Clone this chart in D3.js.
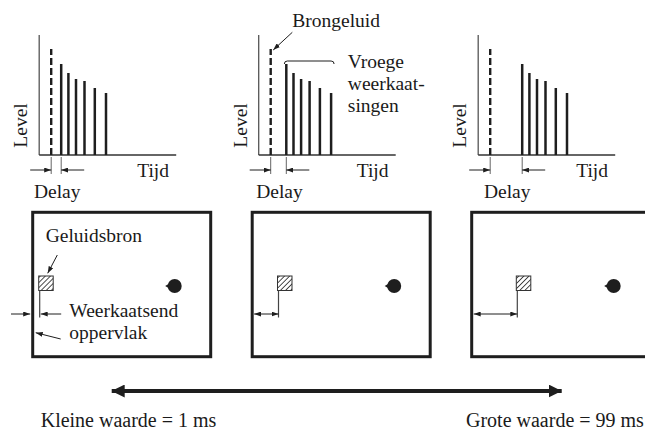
<!DOCTYPE html>
<html><head><meta charset="utf-8">
<script src="https://cdn.jsdelivr.net/npm/d3@7"></script>
<style>
body{margin:0;background:#fff}
svg{display:block}
text{font-family:"Liberation Serif","Times New Roman",serif;fill:#1a1a1a;font-size:19.5px}
</style>
</head><body><svg id="c" width="645" height="433"></svg>
<script>
// ---------- data ----------
const panelIds = ["klein", "middel", "groot"];
const delayTimes = [10, 15.6, 32];              // gap direct sound -> first reflection
const directTime = 12;                          // time of direct sound
const directLevel = 106;                        // level of direct sound
const reflectionOffsets = [0, 7.2, 14.8, 23.3, 33.6, 44.8];
const reflectionLevels = [91, 82, 76, 74, 67, 62];
const wallDistances = [7, 26.3, 45.6];          // source to reflecting wall
const listenerDistance = 142;                   // listener from wall
const axisLabels = {x: "Tijd", y: "Level", delay: "Delay"};
const annotations = {direct: "Brongeluid", early: ["Vroege", "weerkaat-", "singen"],
  source: "Geluidsbron", wall: ["Weerkaatsend", "oppervlak"]};
const rangeLabels = ["Kleine waarde = 1 ms", "Grote waarde = 99 ms"];

// ---------- drawing ----------
const svg = d3.select("#c");
const ink = "#1e1e1e";
const defs = svg.append("defs");
function marker(id, w, h) {
  defs.append("marker").attr("id", id).attr("viewBox", `0 0 ${w} ${h}`)
    .attr("refX", w).attr("refY", h / 2).attr("markerWidth", w).attr("markerHeight", h)
    .attr("markerUnits", "userSpaceOnUse").attr("orient", "auto-start-reverse")
    .append("path").attr("d", `M0,0L${w},${h / 2}L0,${h}Z`).attr("fill", ink);
}
marker("ah", 7, 5);
marker("big", 13, 13);
const pat = defs.append("pattern").attr("id", "hatch").attr("patternUnits", "userSpaceOnUse")
  .attr("width", 3.6).attr("height", 3.6).attr("patternTransform", "rotate(45)");
pat.append("rect").attr("width", 3.6).attr("height", 3.6).attr("fill", "#fff");
pat.append("line").attr("x1", 0).attr("y1", 0).attr("x2", 0).attr("y2", 3.6)
  .attr("stroke", "#222").attr("stroke-width", 1.6);

const panelX = d3.scaleLinear().domain([0, 2]).range([32.7, 471.7]);
const yLevel = d3.scaleLinear().domain([0, 120]).range([155, 35]);
const boxW = 178;

panelIds.forEach((id, i) => {
  const left = panelX(i);
  const ox = left + 6.5;
  const x = d3.scaleLinear().domain([0, 137]).range([ox, ox + 137]);
  const g = svg.append("g").attr("class", "panel-" + id);

  // axes
  g.append("line").attr("x1", x(0)).attr("x2", x(0)).attr("y1", yLevel(0)).attr("y2", yLevel(120))
    .attr("stroke", "#555").attr("stroke-width", 1.3);
  g.append("line").attr("x1", x(0)).attr("x2", x(137)).attr("y1", yLevel(0)).attr("y2", yLevel(0))
    .attr("stroke", "#333").attr("stroke-width", 1.3);

  // direct sound (dashed)
  g.append("line").attr("x1", x(directTime)).attr("x2", x(directTime))
    .attr("y1", yLevel(0)).attr("y2", yLevel(directLevel))
    .attr("stroke", ink).attr("stroke-width", 2.4).attr("stroke-dasharray", "7,3");

  // early reflections
  const firstT = directTime + delayTimes[i];
  g.selectAll("line.refl").data(reflectionOffsets).join("line").attr("class", "refl")
    .attr("x1", d => x(firstT + d)).attr("x2", d => x(firstT + d))
    .attr("y1", yLevel(0)).attr("y2", (d, j) => yLevel(reflectionLevels[j]))
    .attr("stroke", ink).attr("stroke-width", 2.5);

  // delay indicator
  [directTime, firstT].forEach(t => {
    g.append("line").attr("x1", x(t)).attr("x2", x(t)).attr("y1", 157).attr("y2", 174)
      .attr("stroke", "#666").attr("stroke-width", 1);
  });
  g.append("line").attr("x1", x(directTime) - 21).attr("x2", x(directTime)).attr("y1", 170).attr("y2", 170)
    .attr("stroke", ink).attr("stroke-width", 1).attr("marker-end", "url(#ah)");
  g.append("line").attr("x1", x(firstT) + 23).attr("x2", x(firstT)).attr("y1", 170).attr("y2", 170)
    .attr("stroke", ink).attr("stroke-width", 1).attr("marker-end", "url(#ah)");

  // labels
  g.append("text").attr("transform", `translate(${x(0) - 12},${yLevel(0) - 29.5}) rotate(-90)`)
    .attr("text-anchor", "middle").text(axisLabels.y);
  g.append("text").attr("x", x(98)).attr("y", 177).text(axisLabels.x);
  g.append("text").attr("x", x((directTime + firstT) / 2) + 1).attr("y", 198)
    .attr("text-anchor", "middle").text(axisLabels.delay);

  // room
  const rx = d3.scaleLinear().domain([0, boxW]).range([left, left + boxW]);
  g.append("rect").attr("x", rx(0)).attr("y", 212.3).attr("width", boxW).attr("height", 144.4)
    .attr("fill", "none").attr("stroke", ink).attr("stroke-width", 3);
  const sx = rx(wallDistances[i]);
  g.append("rect").attr("x", sx - 1).attr("y", 276).attr("width", 14.5).attr("height", 14.5)
    .attr("fill", "url(#hatch)").attr("stroke", "#333").attr("stroke-width", 1);
  g.append("line").attr("x1", sx).attr("x2", sx).attr("y1", 290.5).attr("y2", 317.5)
    .attr("stroke", "#444").attr("stroke-width", 1.2);
  const lx = rx(listenerDistance);
  g.append("path").attr("d", `M${lx - 9.5},286 L${lx - 3},282 L${lx - 3},290 Z`).attr("fill", ink);
  g.append("circle").attr("cx", lx).attr("cy", 286).attr("r", 7).attr("fill", ink);

  if (i === 0) {
    g.append("line").attr("x1", rx(0) - 21.7).attr("x2", rx(0) - 2.5).attr("y1", 314).attr("y2", 314)
      .attr("stroke", ink).attr("stroke-width", 1).attr("marker-end", "url(#ah)");
    g.append("line").attr("x1", sx + 21.5).attr("x2", sx + 1).attr("y1", 314).attr("y2", 314)
      .attr("stroke", ink).attr("stroke-width", 1).attr("marker-end", "url(#ah)");
  } else {
    g.append("line").attr("x1", rx(0) + 2).attr("x2", sx).attr("y1", 314).attr("y2", 314)
      .attr("stroke", ink).attr("stroke-width", 1)
      .attr("marker-start", "url(#ah)").attr("marker-end", "url(#ah)");
  }

  if (i === 0) {
    g.append("text").attr("x", 45.7).attr("y", 241.5).text(annotations.source);
    g.append("line").attr("x1", 57.3).attr("y1", 255).attr("x2", 47.7).attr("y2", 273.3)
      .attr("stroke", ink).attr("stroke-width", 1).attr("marker-end", "url(#ah)");
    g.append("text").attr("x", 69.3).attr("y", 317).text(annotations.wall[0]);
    g.append("text").attr("x", 69.3).attr("y", 338.9).text(annotations.wall[1]);
    g.append("line").attr("x1", 60.7).attr("y1", 339).attr("x2", 35.7).attr("y2", 332.7)
      .attr("stroke", ink).attr("stroke-width", 1).attr("marker-end", "url(#ah)");
  }
  if (i === 1) {
    g.append("text").attr("x", 292.3).attr("y", 26.7).text(annotations.direct);
    g.append("line").attr("x1", 292.3).attr("y1", 32.3).attr("x2", x(directTime) + 2.5).attr("y2", 50)
      .attr("stroke", ink).attr("stroke-width", 1).attr("marker-end", "url(#ah)");
    const bx0 = x(firstT) - 2, bx1 = x(firstT + reflectionOffsets[reflectionOffsets.length - 1]) + 3;
    g.append("path").attr("d", `M${bx0},64 Q${bx0},61 ${bx0 + 3},61 L${bx1 - 3},61 Q${bx1},61 ${bx1},64`)
      .attr("fill", "none").attr("stroke", ink).attr("stroke-width", 1);
    annotations.early.forEach((t, k) => {
      g.append("text").attr("x", 347.8).attr("y", 68 + k * 22).text(t);
    });
  }
});

// bottom range arrow
svg.append("line").attr("x1", 111.7).attr("x2", 561.7).attr("y1", 391).attr("y2", 391)
  .attr("stroke", ink).attr("stroke-width", 4)
  .attr("marker-start", "url(#big)").attr("marker-end", "url(#big)");
svg.append("text").attr("x", 40.7).attr("y", 427).style("font-size", "20px").text(rangeLabels[0]);
svg.append("text").attr("x", 466).attr("y", 427).style("font-size", "20px").text(rangeLabels[1]);
</script>
</body></html>
